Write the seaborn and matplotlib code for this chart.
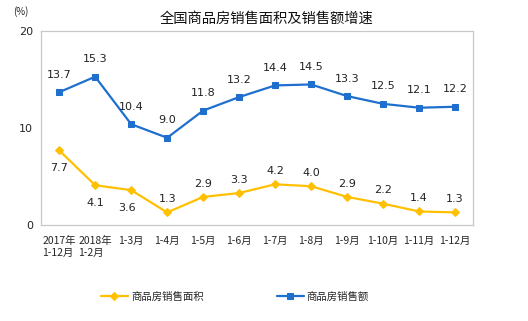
import matplotlib
matplotlib.use("Agg")
import matplotlib.pyplot as plt
import seaborn as sns
import pandas as pd

categories = ["2017年\n1-12月", "2018年\n1-2月", "1-3月", "1-4月", "1-5月", "1-6月",
              "1-7月", "1-8月", "1-9月", "1-10月", "1-11月", "1-12月"]
area = [7.7, 4.1, 3.6, 1.3, 2.9, 3.3, 4.2, 4.0, 2.9, 2.2, 1.4, 1.3]
sales = [13.7, 15.3, 10.4, 9.0, 11.8, 13.2, 14.4, 14.5, 13.3, 12.5, 12.1, 12.2]
area_name = "商品房销售面积"
sales_name = "商品房销售额"

sns.set_theme(style="white")
plt.rcParams['font.family'] = ['Noto Sans CJK SC', 'DejaVu Sans']

df = pd.DataFrame({"x": list(range(len(categories))), "area": area, "sales": sales})

fig = plt.figure(figsize=(5.28, 3.21), dpi=100)
ax = fig.add_axes([0.078, 0.299, 0.818, 0.604])

yellow = "#FFC000"
blue = "#1F6FCF"
sns.lineplot(data=df, x="x", y="area", ax=ax, color=yellow, marker="D", markersize=4,
             markeredgecolor=yellow, linewidth=1.6, label=area_name)
sns.lineplot(data=df, x="x", y="sales", ax=ax, color=blue, marker="s", markersize=4.5,
             markeredgecolor=blue, linewidth=1.6, label=sales_name)

for i, v in enumerate(area):
    if i < 3:
        ax.annotate(f"{v:.1f}", (i, v), xytext=(-3 if i == 2 else 0, -9), textcoords="offset points",
                    ha="center", va="top", fontsize=8, color="#222222", family="DejaVu Sans")
    else:
        ax.annotate(f"{v:.1f}", (i, v), xytext=(0, 6), textcoords="offset points",
                    ha="center", va="bottom", fontsize=8, color="#222222", family="DejaVu Sans")
for i, v in enumerate(sales):
    ax.annotate(f"{v:.1f}", (i, v), xytext=(0, 9), textcoords="offset points",
                ha="center", va="bottom", fontsize=8, color="#222222", family="DejaVu Sans")

ax.set_xlim(-0.5, len(categories) - 0.5)
ax.set_ylim(0, 20)
ax.set_yticks([0, 10, 20])
ax.set_yticklabels(["0", "10", "20"], fontsize=8, family="DejaVu Sans")
ax.set_xticks(range(len(categories)))
ax.set_xticklabels(categories, fontsize=7.5)
for lab in ax.get_xticklabels():
    lab.set_horizontalalignment("center")
    lab.set_multialignment("left")
ax.tick_params(axis="x", length=0, pad=8)
ax.tick_params(axis="y", length=0, pad=6)
# boundary ticks
ax.set_xticks([k - 0.5 for k in range(1, len(categories))], minor=True)
ax.tick_params(axis="x", which="minor", length=3, direction="in", color="#c8c8c8", width=0.8)
ax.set_yticks([10], minor=True)
ax.tick_params(axis="y", which="minor", length=3, direction="out", color="#c8c8c8", width=0.8)
ax.set_xlabel("")
ax.set_ylabel("")
for s in ax.spines.values():
    s.set_color("#c8c8c8")
    s.set_linewidth(0.9)

fig.text(0.505, 0.94, "全国商品房销售面积及销售额增速", ha="center", va="center", fontsize=10.3, color="#111111")
fig.text(0.025, 0.965, "(%)", ha="left", va="center", fontsize=7, color="#222222")

ax.legend_.remove()
h, l = ax.get_legend_handles_labels()
fig.legend(h, l, loc="center", bbox_to_anchor=(0.445, 0.075), ncol=2, frameon=False,
           fontsize=7.5, columnspacing=7, handlelength=2.6, handletextpad=0.3)

fig.savefig("out.png", dpi=100)
